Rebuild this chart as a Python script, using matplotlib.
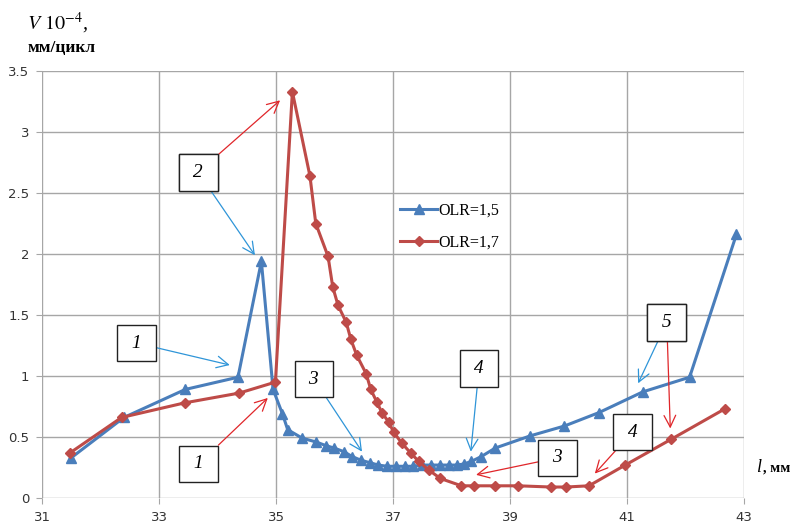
import matplotlib
matplotlib.use("Agg")
import matplotlib.pyplot as plt

# OLR=1,5 (синие треугольники)
x_15 = [31.5, 32.4, 33.45, 34.35, 34.75, 34.95, 35.11, 35.2, 35.45, 35.68, 35.85, 35.99,
        36.16, 36.3, 36.45, 36.6, 36.75, 36.9, 37.05, 37.2, 37.35, 37.5, 37.65, 37.8,
        37.95, 38.1, 38.22, 38.34, 38.51, 38.75, 39.35, 39.93, 40.52, 41.27, 42.07, 42.87]
y_15 = [0.33, 0.66, 0.89, 0.99, 1.94, 0.89, 0.69, 0.56, 0.49, 0.46, 0.43, 0.41,
        0.38, 0.34, 0.31, 0.29, 0.27, 0.26, 0.26, 0.26, 0.26, 0.27, 0.27, 0.27,
        0.27, 0.27, 0.28, 0.30, 0.34, 0.41, 0.51, 0.59, 0.70, 0.87, 0.99, 2.16]

# OLR=1,7 (красные ромбы)
x_17 = [31.48, 32.36, 33.44, 34.37, 34.99, 35.28, 35.58, 35.68, 35.89, 35.97, 36.06,
        36.2, 36.28, 36.38, 36.54, 36.62, 36.72, 36.81, 36.93, 37.01, 37.15, 37.3,
        37.44, 37.61, 37.81, 38.17, 38.38, 38.75, 39.14, 39.7, 39.96, 40.35, 40.97,
        41.75, 42.67]
y_17 = [0.37, 0.66, 0.78, 0.86, 0.95, 3.33, 2.64, 2.25, 1.98, 1.73, 1.58,
        1.44, 1.30, 1.17, 1.02, 0.89, 0.79, 0.70, 0.62, 0.54, 0.45, 0.37,
        0.30, 0.23, 0.16, 0.10, 0.10, 0.10, 0.10, 0.09, 0.09, 0.10, 0.27,
        0.48, 0.73]

x_ticks = [31, 33, 35, 37, 39, 41, 43]
y_ticks = [0, 0.5, 1, 1.5, 2, 2.5, 3, 3.5]
y_labels = ['0', '0.5', '1', '1.5', '2', '2.5', '3', '3.5']

blue = '#4A7EBB'
red = '#BE4B48'
arr_blue = '#2F95D8'
arr_red = '#E0262A'
serif = ['Liberation Serif', 'DejaVu Serif']

fig = plt.figure(figsize=(7.97, 5.23), dpi=100)
ax = fig.add_axes([0.0527, 0.0478, 0.8808, 0.8164])

ax.plot(x_15, y_15, color=blue, lw=2.2, marker='^', ms=7.5, label='OLR=1,5', zorder=3)
ax.plot(x_17, y_17, color=red, lw=2.2, marker='D', ms=5.5, label='OLR=1,7', zorder=3)

ax.set_xlim(31, 43)
ax.set_ylim(0, 3.5)
ax.set_xticks(x_ticks)
ax.set_yticks(y_ticks)
ax.set_yticklabels(y_labels)
ax.grid(True, color='#A6A6A6', lw=1)
ax.set_axisbelow(True)
for s in ax.spines.values():
    s.set_visible(False)
ax.tick_params(length=4, color='#A6A6A6', labelsize=9.5, labelcolor='#333333', pad=5)

leg = ax.legend(loc='upper left', bbox_to_anchor=(0.49, 0.725), frameon=False,
                prop={'family': serif, 'size': 11.5}, handlelength=2.3,
                handletextpad=0.1, labelspacing=1.0)

# подписи осей
fig.text(0.034, 0.943, r'$V\ 10^{-4}$,', fontsize=14.5, family=serif, style='italic',
         math_fontfamily='stix')
fig.text(0.034, 0.900, 'мм/цикл', fontsize=12.5, family=serif, weight='bold')
fig.text(0.948, 0.098, 'l', fontsize=13, family=serif, style='italic')
fig.text(0.957, 0.098, ', мм', fontsize=10.5, family=serif, weight='bold')

# выноски
box = dict(boxstyle='square,pad=0.5', fc='white', ec='#222222', lw=1)

def callout(label, pos, targets):
    for tx, ty, c in targets:
        ax.annotate(label, xy=(tx, ty), xytext=pos, ha='center', va='center',
                    fontsize=14, family=serif, style='italic', bbox=box,
                    arrowprops=dict(arrowstyle='->,head_length=0.6,head_width=0.3',
                                    color=c, lw=0.9, shrinkA=0, shrinkB=0),
                    zorder=5)

callout(' 2 ', (33.67, 2.67), [(35.07, 3.26, arr_red), (34.64, 1.99, arr_blue)])
callout(' 1 ', (32.62, 1.27), [(34.21, 1.09, arr_blue)])
callout(' 1 ', (33.68, 0.28), [(34.86, 0.82, arr_red)])
callout(' 3 ', (35.65, 0.975), [(36.47, 0.38, arr_blue)])
callout(' 4 ', (38.47, 1.06), [(38.33, 0.38, arr_blue)])
callout(' 3 ', (39.82, 0.33), [(38.42, 0.19, arr_red)])
callout(' 4 ', (41.09, 0.54), [(40.45, 0.20, arr_red)])
callout(' 5 ', (41.68, 1.44), [(41.19, 0.94, arr_blue), (41.74, 0.57, arr_red)])

fig.savefig('out.png', dpi=100)
